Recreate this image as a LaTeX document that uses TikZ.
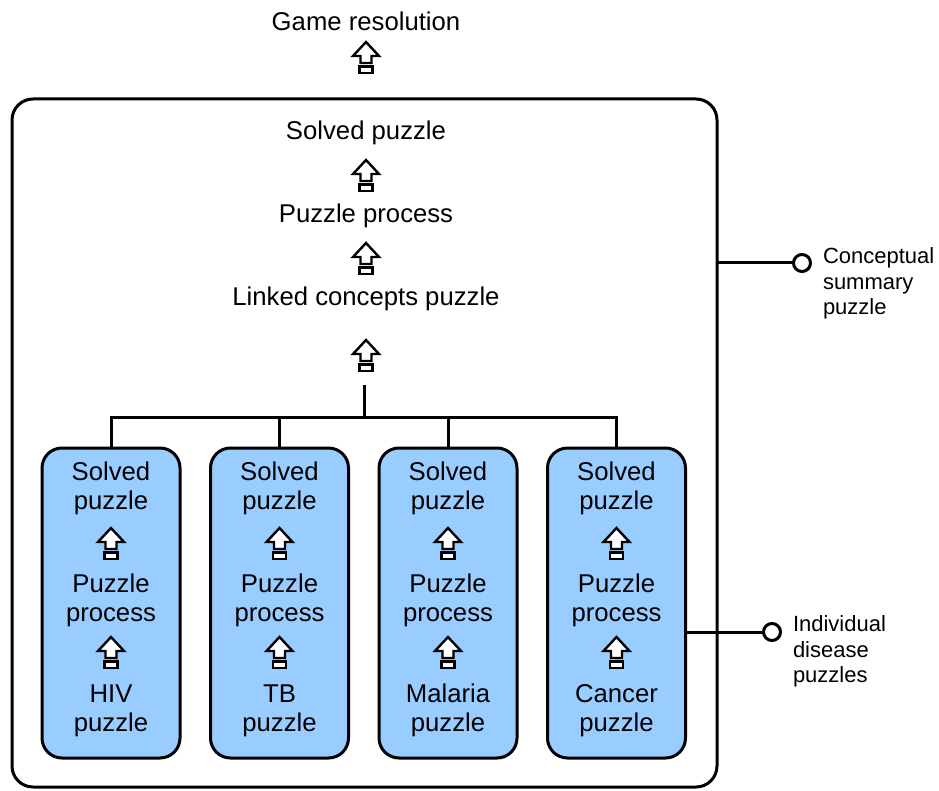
\documentclass[tikz,border=0pt]{standalone}
\usepackage{fontspec}
\setmainfont{Liberation Sans}
\definecolor{boxblue}{RGB}{153,204,255}
\begin{document}
\begin{tikzpicture}[x=1pt,y=-1pt,
  every node/.style={inner sep=0pt,outer sep=0pt},
  maintext/.style={font=\fontsize{25.7}{29}\selectfont,align=center,anchor=base},
  sidetext/.style={font=\fontsize{22}{25.5}\selectfont,align=left,anchor=north west},
  outerbox/.style={draw,line width=3pt,rounded corners=21pt},
  diseasebox/.style={draw,line width=3pt,rounded corners=20pt,fill=boxblue},
  conn/.style={line width=3pt},
  pin/.style={circle,draw,line width=3pt,fill=white,minimum size=17pt},
  pics/uparr/.style={code={
    \draw[line width=2.4pt,line join=miter,fill=white]
      (0,0) -- (13,14) -- (5.5,14) -- (5.5,21) -- (-5.5,21) -- (-5.5,14) -- (-13,14) -- cycle;
    \draw[line width=2.4pt,fill=white] (-6.5,24.5) rectangle (6.5,31);
  }}]
\useasboundingbox (0,0) rectangle (939,791);

% outer box
\node[outerbox,minimum width=705pt,minimum height=688pt] (outer) at (364.5,443) {};

% top chain
\node[maintext] (game) at (366,31) {Game resolution};
\pic at (366,42) {uparr};
\node[maintext] (solved) at (366,140) {Solved puzzle};
\pic at (366,160) {uparr};
\node[maintext] (process) at (366,223) {Puzzle process};
\pic at (366,243) {uparr};
\node[maintext] (linked) at (366,306) {Linked concepts puzzle};
\pic at (366,340) {uparr};

% disease boxes
\foreach \i/\nm/\lab in {0/hiv/HIV, 1/tb/TB, 2/mal/Malaria, 3/can/Cancer}{
  \node[diseasebox,minimum width=138pt,minimum height=310pt] (b\nm) at ({111+168.5*\i},603) {};
  \node[maintext] (s\nm) at ({111+168.5*\i},509) {Solved\\puzzle};
  \pic at ({111+168.5*\i},528) {uparr};
  \node[maintext] (p\nm) at ({111+168.5*\i},621) {Puzzle\\process};
  \pic at ({111+168.5*\i},637) {uparr};
  \node[maintext] (d\nm) at ({111+168.5*\i},731) {\lab\\puzzle};
}

% tree connector
\coordinate (stem) at (364,385);
\coordinate (hub) at (364,417);
\draw[conn] (stem) -- (hub);
\draw[conn] (bhiv.north) |- (hub) -| (bcan.north);
\draw[conn] (btb.north) |- (hub);
\draw[conn] (bmal.north) |- (hub);

% side labels
\node[pin] (pin1) at (802,263) {};
\draw[conn] (outer.east |- pin1) -- (pin1);
\node[sidetext] (lab1) at (823,248) {Conceptual\\summary\\puzzle};

\node[pin] (pin2) at (772,632) {};
\draw[conn] (bcan.east |- pin2) -- (pin2);
\node[sidetext] (lab2) at (793,616) {Individual\\disease\\puzzles};
\end{tikzpicture}
\end{document}
